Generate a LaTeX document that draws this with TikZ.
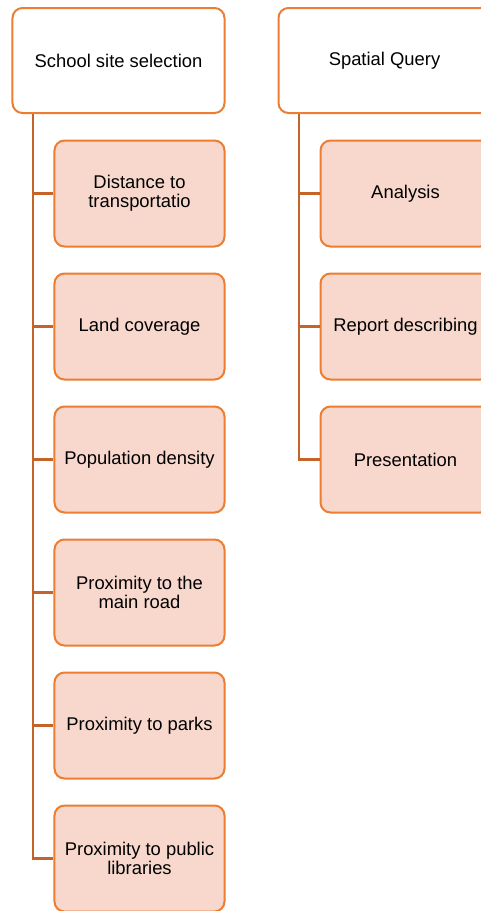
\documentclass[tikz,border=0pt]{standalone}
\usepackage{fontspec}
\setmainfont{Liberation Sans}
\usetikzlibrary{positioning}
\definecolor{boxline}{RGB}{237,125,49}
\definecolor{boxfill}{RGB}{248,216,204}
\definecolor{linkcol}{RGB}{197,100,40}
\tikzset{head/.style={draw=boxline, line width=2bp, fill=white, rounded corners=10bp,
    minimum width=212bp, minimum height=105bp, align=center,
    font=\fontsize{18.4bp}{19bp}\selectfont}}
\tikzset{item/.style={draw=boxline, line width=2bp, fill=boxfill, rounded corners=10bp,
    minimum width=170bp, minimum height=106bp, align=center,
    font=\fontsize{18.4bp}{19bp}\selectfont}}
\tikzset{link/.style={draw=linkcol, line width=2.2bp}}

\begin{document}
\begin{tikzpicture}[x=1bp, y=-1bp]
        \clip (0,0) rectangle (481,911);

        \node[head] (school) at (118.5, 60.5) {School site selection};
        \node[head] (query) at (384.5, 60.5) {Spatial Query};

        \node[item] (dist) [below right = 25.5bp and 42bp of school.south west] {Distance to\\ transportatio};
        \node[item] (land) [below = 25bp of dist] {Land coverage};
        \node[item] (pop) [below = 25bp of land] {Population density};
        \node[item] (road) [below = 25bp of pop] {Proximity to the\\ main road};
        \node[item] (parks) [below = 25bp of road] {Proximity to parks};
        \node[item] (libs) [below = 25bp of parks] {Proximity to public\\ libraries};

        \node[item] (anal) [below right = 25.5bp and 42bp of query.south west] {Analysis};
        \node[item] (report) [below = 25bp of anal] {Report describing};
        \node[item] (pres) [below = 25bp of report] {Presentation};

        \coordinate (sl) at ([xshift=21.5bp]school.south west);
        \coordinate (ql) at ([xshift=21.5bp]query.south west);

        \draw[link] (sl) |- (dist.west);
        \draw[link] (sl) |- (land.west);
        \draw[link] (sl) |- (pop.west);
        \draw[link] (sl) |- (road.west);
        \draw[link] (sl) |- (parks.west);
        \draw[link] (sl) |- (libs.west);

        \draw[link] (ql) |- (anal.west);
        \draw[link] (ql) |- (report.west);
        \draw[link] (ql) |- (pres.west);
    \end{tikzpicture}
\end{document}
